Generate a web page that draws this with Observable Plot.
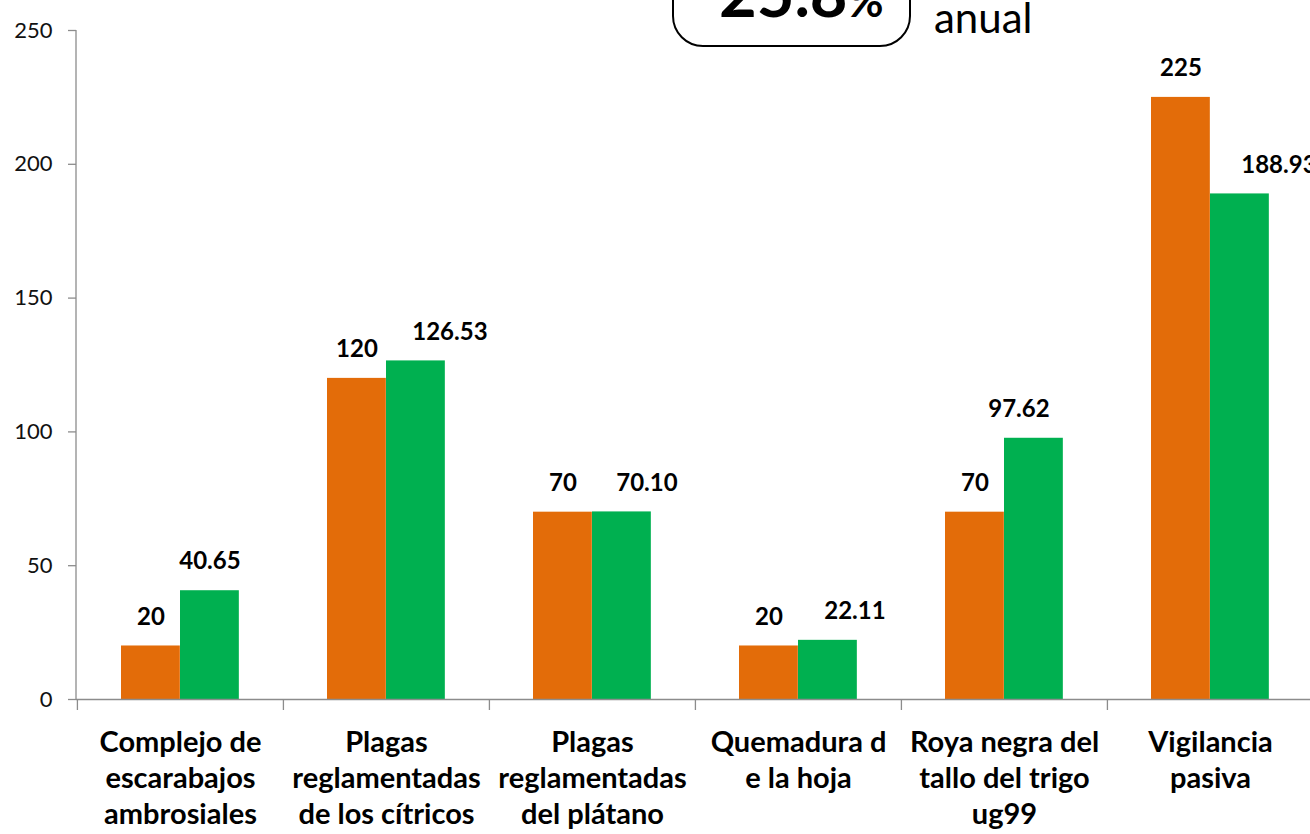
<!DOCTYPE html>
<html>
<head>
<meta charset="utf-8">
<script src="https://cdn.jsdelivr.net/npm/d3@7"></script>
<script src="https://cdn.jsdelivr.net/npm/@observablehq/plot@0.6"></script>
<style>
  html, body { margin: 0; padding: 0; background: white; overflow: hidden; }
  #chart { position: relative; width: 1310px; height: 834px; }
</style>
</head>
<body>
<div id="chart"></div>
<script>
const categories = [
  "Complejo de escarabajos ambrosiales",
  "Plagas reglamentadas de los cítricos",
  "Plagas reglamentadas del plátano",
  "Quemadura de la hoja",
  "Roya negra del tallo del trigo ug99",
  "Vigilancia pasiva"
];
const tickLabels = [
  "Complejo de\nescarabajos\nambrosiales",
  "Plagas\nreglamentadas\nde los cítricos",
  "Plagas\nreglamentadas\ndel plátano",
  "Quemadura d\ne la hoja",
  "Roya negra del\ntallo del trigo\nug99",
  "Vigilancia\npasiva"
];
const orangeValues = [20, 120, 70, 20, 70, 225];
const greenValues = [40.65, 126.53, 70.10, 22.11, 97.62, 188.93];
const yTicks = [0, 50, 100, 150, 200, 250];
const annotationValue = "25.8";
const annotationUnit = "%";
const annotationText = "anual";

// manual horizontal nudges of the green value labels (as placed in the original chart)
const greenLabelNudge = [0, 34, 25, 27, -15, 39];

const orange = "#E36C09";
const green = "#00B050";
const axisGray = "#8c8c8c";

const orangeData = categories.map((c, i) => ({cat: c, v: orangeValues[i], label: String(orangeValues[i])}));
const greenData = categories.map((c, i) => ({cat: c, v: greenValues[i], label: greenValues[i].toFixed(2)}));
const labelData = categories.map((c, i) => ({cat: c, label: tickLabels[i]}));

const W = 1310, H = 834;
const mL = 76, mR = -3, mT = 30, mB = 135;
const band = (W - mL - mR) / categories.length;

const greenLabelMarks = greenData.map((d, i) =>
  Plot.text([d], {x: "cat", y: "v", text: "label", dx: 103 + 59/2 - band/2 + greenLabelNudge[i], dy: -29, fontSize: 24, fontWeight: "bold", fill: "#000"})
);

const plot = Plot.plot({
  width: W,
  height: H,
  marginLeft: mL,
  marginRight: mR,
  marginTop: mT,
  marginBottom: mB,
  style: {fontFamily: "Lato, sans-serif", background: "white", overflow: "hidden"},
  x: {domain: categories, padding: 0, axis: null},
  y: {domain: [0, 250], axis: null},
  marks: [
    Plot.barY(orangeData, {x: "cat", y: "v", fill: orange, insetLeft: 44, insetRight: band - 103}),
    Plot.barY(greenData, {x: "cat", y: "v", fill: green, insetLeft: 103, insetRight: band - 162}),
    Plot.ruleY([0], {stroke: axisGray, strokeWidth: 1.3}),
    Plot.axisY({ticks: yTicks, tickSize: 8, tickPadding: 16, stroke: axisGray, strokeWidth: 1.3, fontSize: 22, fill: "#111", tickFormat: d => String(d), label: null}),
    Plot.ruleX(categories, {x: d => d, dx: -band / 2, y1: 0, y2: 0, insetBottom: -11, stroke: axisGray, strokeWidth: 1.3}),
    Plot.text(labelData, {x: "cat", y: 0, text: "label", lineAnchor: "top", dy: 27, lineHeight: 1.24, fontSize: 29, fontWeight: "bold", fill: "#000"}),
    Plot.text(orangeData, {x: "cat", y: "v", text: "label", dx: 44 + 59/2 - band/2, dy: -29, fontSize: 24, fontWeight: "bold", fill: "#000"}),
    ...greenLabelMarks
  ]
});

const svg = d3.select(plot);
svg.append("line")
  .attr("x1", mL).attr("x2", mL)
  .attr("y1", mT).attr("y2", H - mB)
  .attr("stroke", axisGray).attr("stroke-width", 1.3);

const ann = svg.append("g").attr("font-family", "Lato, sans-serif").attr("text-anchor", "start");
ann.append("rect")
  .attr("x", 673).attr("y", -40).attr("width", 237).attr("height", 86)
  .attr("rx", 30).attr("ry", 30)
  .attr("fill", "white").attr("stroke", "#000").attr("stroke-width", 2);
const t = ann.append("text").attr("x", 719).attr("y", 17).attr("fill", "#000").attr("font-weight", "bold");
t.append("tspan").attr("font-size", 65).text(annotationValue);
t.append("tspan").attr("font-size", 44).text(annotationUnit);
ann.append("text").attr("x", 934).attr("y", 33).attr("font-size", 42).attr("fill", "#000").text(annotationText);

document.getElementById("chart").appendChild(plot);
</script>
</body>
</html>
